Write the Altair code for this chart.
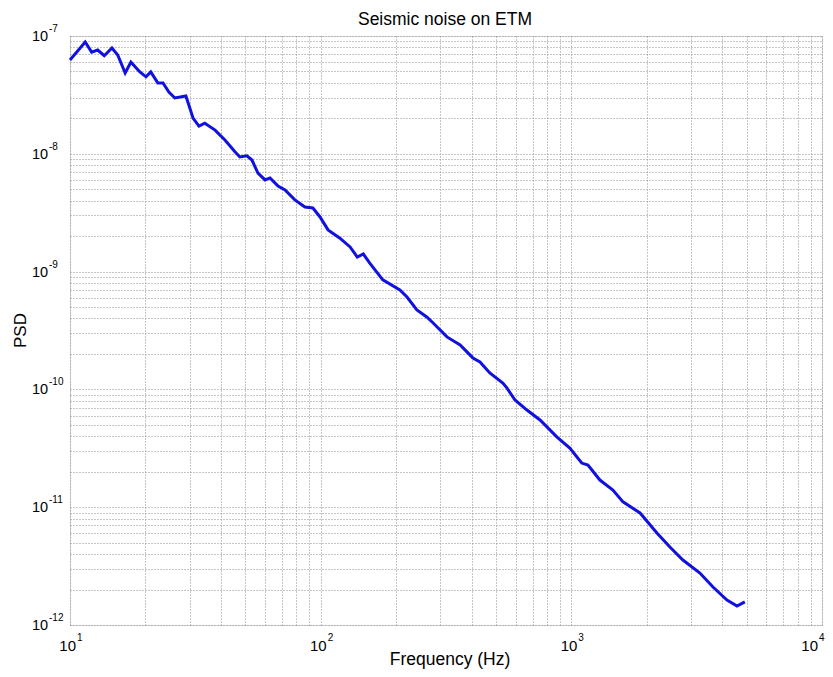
import altair as alt
import pandas as pd

# Curve (frequency in Hz, PSD)
freq = [10.0, 11.5, 12.2, 12.9, 13.7, 14.7, 15.5, 16.6, 17.5, 19.0, 20.1, 21.0, 22.4, 23.5,
        24.8, 26.2, 27.5, 29.0, 31.0, 32.7, 34.5, 37.9, 41.5, 45.5, 47.6, 50.8, 53.2, 56.2,
        60.0, 62.8, 67.6, 72.1, 78.9, 86.5, 93.1, 99.4, 107, 119, 131, 140, 148, 157, 177,
        207, 221, 242, 265, 281, 319, 360, 405, 432, 473, 533, 553, 596, 665, 750, 877, 986,
        1100, 1165, 1300, 1465, 1607, 1880, 2195, 2473, 2787, 3258, 3673, 4177, 4581, 4921]
psd = [6.25e-8, 8.9e-8, 7.3e-8, 7.6e-8, 6.8e-8, 7.9e-8, 6.9e-8, 4.85e-8, 6.0e-8, 4.95e-8,
       4.5e-8, 4.95e-8, 4.0e-8, 4.0e-8, 3.35e-8, 2.98e-8, 3.03e-8, 3.1e-8, 2.0e-8, 1.72e-8,
       1.82e-8, 1.59e-8, 1.31e-8, 1.04e-8, 9.4e-9, 9.6e-9, 8.85e-9, 6.87e-9, 6.0e-9, 6.24e-9,
       5.33e-9, 4.93e-9, 4.06e-9, 3.53e-9, 3.47e-9, 2.91e-9, 2.26e-9, 1.93e-9, 1.62e-9,
       1.33e-9, 1.41e-9, 1.18e-9, 8.5e-10, 6.98e-10, 6.08e-10, 4.72e-10, 4.12e-10, 3.66e-10,
       2.79e-10, 2.38e-10, 1.85e-10, 1.71e-10, 1.38e-10, 1.13e-10, 1.03e-10, 8.13e-11,
       6.68e-11, 5.5e-11, 3.94e-11, 3.18e-11, 2.37e-11, 2.28e-11, 1.70e-11, 1.40e-11,
       1.11e-11, 8.93e-12, 6.04e-12, 4.59e-12, 3.56e-12, 2.76e-12, 2.10e-12, 1.63e-12,
       1.45e-12, 1.57e-12]

x_decades = [10, 100, 1000]
x_exps = ["1", "2", "3"]
x_last = [10000]
x_last_exp = ["4"]
y_decades = [1e-12, 1e-11, 1e-10, 1e-9, 1e-8, 1e-7]
y_exps = ["-12", "-11", "-10", "-9", "-8", "-7"]

title_text = "Seismic noise on ETM"
x_title = "Frequency (Hz)"
y_title = "PSD"

W, H = 752, 589
FONT = "Liberation Sans"

x_grid = [d * 10 ** k for k in range(1, 4) for d in range(1, 10)] + [10000]
y_grid = [d * 10.0 ** k for k in range(-12, -7) for d in range(1, 10)] + [1e-7]

xs = alt.Scale(type="log", domain=[10, 10000], nice=False)
ys = alt.Scale(type="log", domain=[1e-12, 1e-7], nice=False)

df = pd.DataFrame({"f": freq, "p": psd})
xl = pd.DataFrame({"v": x_decades, "e": x_exps})
xl4 = pd.DataFrame({"v": x_last, "e": x_last_exp})
yl = pd.DataFrame({"v": y_decades, "e": y_exps})
tdf = pd.DataFrame({"t": [title_text], "xt": [x_title], "yt": [y_title]})

line = alt.Chart(df).mark_line(color="#1010e0", strokeWidth=3).encode(
    x=alt.X("f:Q", scale=xs,
            axis=alt.Axis(values=x_grid, labels=False, ticks=False, domain=False,
                          grid=True, gridColor="#8c8c8c", gridDash=[1, 2], gridWidth=1,
                          title=None)),
    y=alt.Y("p:Q", scale=ys,
            axis=alt.Axis(values=y_grid, labels=False, ticks=False, domain=False,
                          grid=True, gridColor="#8c8c8c", gridDash=[1, 2], gridWidth=1,
                          title=None)),
)


def xlabels(data, dx10, dxe):
    base = alt.Chart(data).mark_text(font=FONT, fontSize=15, align="right",
                                     baseline="middle", dx=dx10, color="#000").encode(
        x=alt.X("v:Q", scale=xs), y=alt.value(H + 20.5), text=alt.value("10"))
    ex = alt.Chart(data).mark_text(font=FONT, fontSize=10, align="left",
                                   baseline="middle", dx=dxe, color="#000").encode(
        x=alt.X("v:Q", scale=xs), y=alt.value(H + 13), text="e:N")
    return base, ex


xb, xe = xlabels(xl, 6, 7)
xb4, xe4 = xlabels(xl4, -4, -3)

ybase = alt.Chart(yl).mark_text(font=FONT, fontSize=14.5, align="left", baseline="middle",
                               dy=1, color="#000").encode(
    y=alt.Y("v:Q", scale=ys), x=alt.value(-38), text=alt.value("10"))
yexp = alt.Chart(yl).mark_text(font=FONT, fontSize=10, align="left", baseline="middle",
                              dy=-7, color="#000").encode(
    y=alt.Y("v:Q", scale=ys), x=alt.value(-21), text="e:N")

ttl = alt.Chart(tdf).mark_text(font=FONT, fontSize=17.5, align="center",
                               baseline="alphabetic", color="#000").encode(
    x=alt.value(W / 2 - 1), y=alt.value(-11), text="t:N")
xttl = alt.Chart(tdf).mark_text(font=FONT, fontSize=17.5, align="center",
                                baseline="alphabetic", color="#000").encode(
    x=alt.value(W / 2 + 4), y=alt.value(H + 40), text="xt:N")
yttl = alt.Chart(tdf).mark_text(font=FONT, fontSize=17, align="center",
                                baseline="middle", angle=270, color="#000").encode(
    x=alt.value(-49), y=alt.value(H / 2), text="yt:N")

chart = alt.layer(line, xb, xe, xb4, xe4, ybase, yexp, ttl, xttl, yttl).properties(
    width=W, height=H,
    autosize=alt.AutoSizeParams(type="none"),
    padding={"left": 62, "top": 28, "right": 3, "bottom": 44},
).configure_view(stroke="#000", strokeWidth=1).configure(background="white")

chart.save("out.html", embed_options={"renderer": "svg", "actions": False})
